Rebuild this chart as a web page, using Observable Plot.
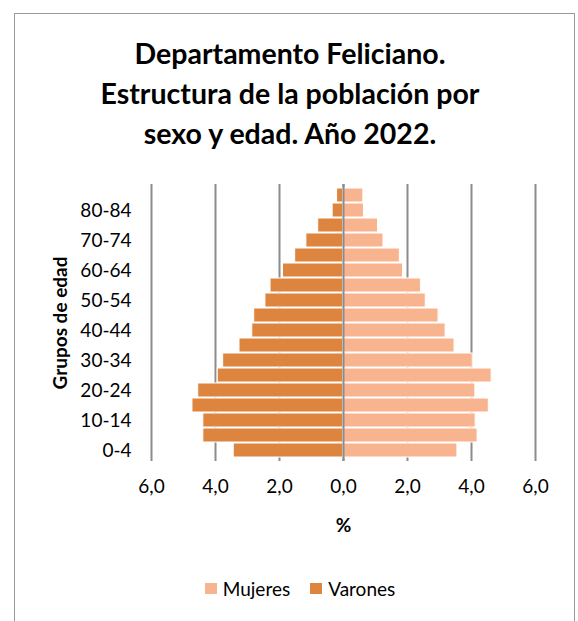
<!DOCTYPE html>
<html>
<head>
<meta charset="utf-8">
<script src="https://cdn.jsdelivr.net/npm/d3@7"></script>
<script src="https://cdn.jsdelivr.net/npm/@observablehq/plot@0.6"></script>
<style>
  html, body { margin: 0; padding: 0; background: #fff; }
  body { width: 578px; height: 621px; position: relative; overflow: hidden; font-family: Lato, "Open Sans", sans-serif; color: #000; }
  #frame { position: absolute; left: 14px; top: 13px; width: 561px; height: 640px; border: 1.5px solid #9a9a9a; border-bottom: none; box-sizing: border-box; }
  #title { position: absolute; left: 0; top: 33px; width: 580px; text-align: center; font-weight: bold; font-size: 28.5px; line-height: 40px; }
  #chart { position: absolute; left: 0; top: 165px; }
  #chart svg { font-family: Lato, "Open Sans", sans-serif; overflow: visible; }
  #chart [aria-label="x-axis label"] text, #chart [aria-label="y-axis label"] text { font-weight: bold; }
  #legend { position: absolute; left: 0; top: 577px; width: 600px; display: flex; justify-content: center; gap: 20px; font-size: 19px; }
  .item { display: flex; align-items: center; gap: 6px; }
  .sw { width: 12px; height: 11px; display: inline-block; }
</style>
</head>
<body>
<div id="frame"></div>
<div id="title">Departamento Feliciano.<br>Estructura de la población por<br>sexo y edad. Año 2022.</div>
<div id="chart"></div>
<div id="legend"></div>
<script>
// Grupos de edad (de abajo hacia arriba)
const grupos = ["0-4","5-9","10-14","15-19","20-24","25-29","30-34","35-39","40-44","45-49","50-54","55-59","60-64","65-69","70-74","75-79","80-84","85+"];
// Porcentajes
const varones = [3.43, 4.38, 4.38, 4.72, 4.54, 3.93, 3.76, 3.25, 2.85, 2.79, 2.44, 2.28, 1.89, 1.51, 1.16, 0.79, 0.34, 0.20];
const mujeres = [3.56, 4.19, 4.13, 4.54, 4.12, 4.63, 4.04, 3.47, 3.19, 2.97, 2.57, 2.42, 1.86, 1.76, 1.25, 1.08, 0.64, 0.62];
// Etiquetas visibles del eje vertical
const etiquetasY = ["0-4","10-14","20-24","30-34","40-44","50-54","60-64","70-74","80-84"];
// Marcas del eje horizontal
const ticksX = [-6, -4, -2, 0, 2, 4, 6];
const series = ["Mujeres", "Varones"];
const colores = ["#F8B48E", "#DD843E"];

const filas = grupos.map((g, i) => ({grupo: g, varones: varones[i], mujeres: mujeres[i]}));

const chart = Plot.plot({
  width: 578,
  height: 370,
  marginLeft: 151,
  marginRight: 43,
  marginTop: 19,
  marginBottom: 74,
  style: {fontSize: "19px", fontFamily: "Lato, 'Open Sans', sans-serif", color: "#000"},
  x: {domain: [-6, 6]},
  y: {domain: grupos.slice().reverse(), padding: 0.08},
  marks: [
    Plot.ruleX(ticksX, {stroke: "#8c8c8c", strokeWidth: 2}),
    Plot.barX(filas, {y: "grupo", x1: d => -d.varones, x2: 0, fill: colores[1], stroke: "white", strokeWidth: 1}),
    Plot.barX(filas, {y: "grupo", x1: 0, x2: "mujeres", fill: colores[0], stroke: "white", strokeWidth: 1}),
    Plot.ruleX([0], {stroke: "#8c8c8c", strokeWidth: 2}),
    Plot.axisX({
      ticks: ticksX,
      tickSize: 0,
      tickPadding: 18,
      tickFormat: d => Math.abs(d).toFixed(1).replace(".", ","),
      label: "%",
      labelAnchor: "center",
      labelArrow: "none",
      labelOffset: 70,
      fontSize: 19
    }),
    Plot.axisY({
      ticks: etiquetasY,
      tickSize: 0,
      tickPadding: 20,
      label: "Grupos de edad",
      labelAnchor: "center",
      labelArrow: "none",
      labelOffset: 98,
      fontSize: 19
    })
  ]
});
document.getElementById("chart").appendChild(chart);

const legend = document.getElementById("legend");
series.forEach((s, i) => {
  const item = document.createElement("span");
  item.className = "item";
  const sw = document.createElement("span");
  sw.className = "sw";
  sw.style.background = colores[i];
  item.appendChild(sw);
  item.appendChild(document.createTextNode(s));
  legend.appendChild(item);
});
</script>
</body>
</html>
